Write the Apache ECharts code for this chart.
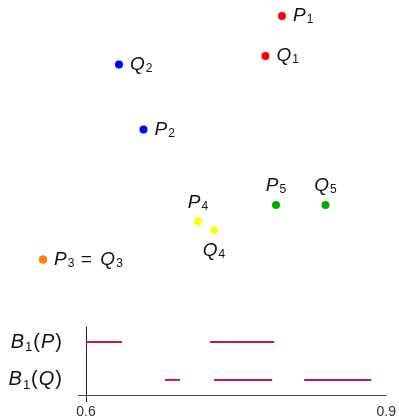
<!DOCTYPE html>
<html>
<head>
<meta charset="utf-8">
<script src="https://cdn.jsdelivr.net/npm/echarts@6/dist/echarts.min.js"></script>
<style>html,body{margin:0;padding:0;background:#fff}#c{width:399px;height:420px}</style>
</head>
<body>
<div id="c"></div>
<script>
// ---- data ----
const pointNames = ['P1', 'Q1', 'P2', 'Q2', 'P3', 'Q3', 'P4', 'Q4', 'P5', 'Q5'];
const pointX = [282, 265.5, 143.5, 119, 43, 43, 198, 214, 276, 325.5];
const pointY = [16, 56, 129.5, 64.5, 259.5, 259.5, 221.5, 230, 205, 205];
const pointLabels = ['P1', 'Q1', 'P2', 'Q2', 'P3 = Q3', '', 'P4', 'Q4', 'P5', 'Q5'];

const barcodeRows = ['B1(Q)', 'B1(P)'];
const barsP = [[0.6, 0.636], [0.724, 0.788]];
const barsQ = [[0.679, 0.694], [0.728, 0.786], [0.818, 0.885]];
const xTickLabels = [0.6, 0.9];

// ---- styles ----
const FONT = 'Liberation Sans';
const pairColors = {1: '#ff0000', 2: '#0000ff', 3: '#ff8000', 4: '#ffff00', 5: '#00aa00'};
const labelPos = {P1: 'right', Q1: 'right', P2: 'right', Q2: 'right', P3: 'right', Q3: 'right',
                  P4: 'top', Q4: 'bottom', P5: 'top', Q5: 'top'};
const labelDist = {right: 7, top: 5, bottom: 7};
const rich = {
  i: {fontFamily: FONT, fontStyle: 'italic', fontSize: 19, color: '#111', lineHeight: 20},
  r: {fontFamily: FONT, fontSize: 19, color: '#111', lineHeight: 20},
  e: {fontFamily: FONT, fontSize: 19, color: '#111', lineHeight: 20, padding: [0, 7, 0, 5], width: 14, align: 'center'},
  s: {fontFamily: FONT, fontSize: 12, color: '#111', lineHeight: 12, verticalAlign: 'top', padding: [8, 0, 0, 1]}
};
const richY = {
  i: {fontFamily: FONT, fontStyle: 'italic', fontSize: 20, color: '#111', lineHeight: 22},
  r: {fontFamily: FONT, fontSize: 20, color: '#111', lineHeight: 22, padding: [0, 1, 0, 1]},
  s: {fontFamily: FONT, fontSize: 13, color: '#111', lineHeight: 13, verticalAlign: 'top', padding: [10, 0, 0, 1]}
};
function mathRich(txt) {
  return txt.split(' ').map(tok => {
    const m = tok.match(/^([A-Za-z])(\d)$/);
    if (m) return '{i|' + m[1] + '}{s|' + m[2] + '}';
    return '{e|' + tok + '}';
  }).join('');
}
function rowRich(txt) {
  const m = txt.match(/^([A-Za-z])(\d)\(([A-Za-z])\)$/);
  return '{i|' + m[1] + '}{s|' + m[2] + '}{r|(}{i|' + m[3] + '}{r|)}';
}

const scatterData = pointNames.map((n, k) => {
  const pair = +n.slice(1);
  const pos = labelPos[n];
  return {
    value: [pointX[k], pointY[k]],
    itemStyle: {color: pairColors[pair], opacity: 1},
    label: {
      show: pointLabels[k] !== '',
      position: pos,
      opacity: 1,
      distance: labelDist[pos],
      formatter: mathRich(pointLabels[k] || 'X0'),
      rich: rich
    }
  };
});

const rowsData = [];
barsQ.forEach(b => rowsData.push([b[0], b[1], 0]));
barsP.forEach(b => rowsData.push([b[0], b[1], 1]));

const chart = echarts.init(document.getElementById('c'), null, {renderer: 'canvas'});
chart.setOption({
  animation: false,
  backgroundColor: '#fff',
  grid: [
    {left: 0, top: 0, right: 0, bottom: 0},
    {left: 86, right: 11, top: 327, bottom: 25}
  ],
  xAxis: [
    {gridIndex: 0, type: 'value', min: 0, max: 399, show: false},
    {gridIndex: 1, type: 'value', min: 0.6, max: 0.9,
     splitLine: {show: false},
     axisLine: {show: true, onZero: false, lineStyle: {color: '#444', width: 1}},
     axisTick: {show: true, customValues: [0.6], length: 7, lineStyle: {color: '#222'}},
     axisLabel: {customValues: xTickLabels, formatter: v => v.toFixed(1),
                 fontFamily: FONT, fontSize: 14, color: '#333', margin: 10}}
  ],
  yAxis: [
    {gridIndex: 0, type: 'value', min: 0, max: 420, inverse: true, show: false},
    {gridIndex: 1, type: 'value', min: -0.4, max: 1.4,
     splitLine: {show: false},
     axisLine: {show: true, onZero: false, lineStyle: {color: '#222', width: 1}},
     axisTick: {show: true, customValues: [-0.4], length: 8, lineStyle: {color: '#444'}},
     axisLabel: {customValues: [0, 1], margin: 23,
                 formatter: v => rowRich(barcodeRows[Math.round(v)]), rich: richY}}
  ],
  series: [
    {type: 'scatter', xAxisIndex: 0, yAxisIndex: 0, symbolSize: 8, data: scatterData, z: 3},
    {type: 'custom', xAxisIndex: 1, yAxisIndex: 1, data: rowsData,
     renderItem: function (params, api) {
       const a = api.coord([api.value(0), api.value(2)]);
       const b = api.coord([api.value(1), api.value(2)]);
       return {type: 'line', shape: {x1: a[0], y1: a[1], x2: b[0], y2: b[1]},
               style: {stroke: '#c8144c', lineWidth: 2, lineCap: 'butt'}};
     }}
  ]
});
</script>
</body>
</html>
